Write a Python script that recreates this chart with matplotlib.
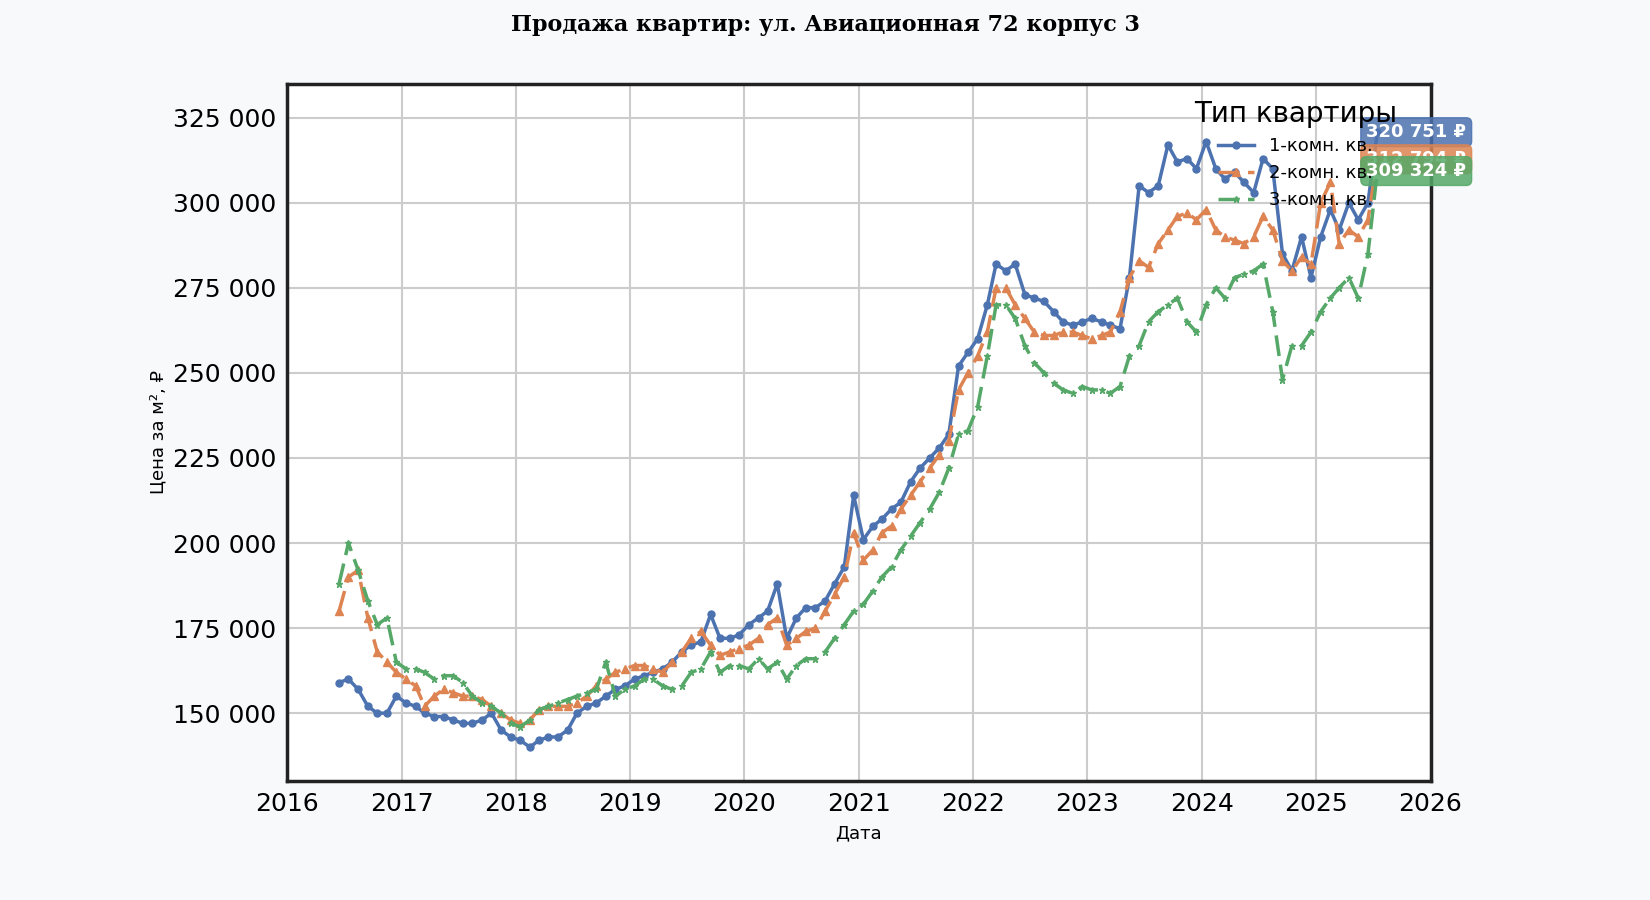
import matplotlib
matplotlib.use("Agg")
import matplotlib.pyplot as plt
import pandas as pd

dates = pd.date_range("2016-06-01", "2025-07-01", freq="MS") + pd.Timedelta(days=14)

one_room = [159000,160000,157000,152000,150000,150000,155000,
 153000,152000,150000,149000,149000,148000,147000,147000,148000,150000,145000,143000,
 142000,140000,142000,143000,143000,145000,150000,152000,153000,155000,157000,158000,
 160000,161000,162000,163000,165000,168000,170000,171000,179000,172000,172000,173000,
 176000,178000,180000,188000,172000,178000,181000,181000,183000,188000,193000,214000,
 201000,205000,207000,210000,212000,218000,222000,225000,228000,232000,252000,256000,
 260000,270000,282000,280000,282000,273000,272000,271000,268000,265000,264000,265000,
 266000,265000,264000,263000,278000,305000,303000,305000,317000,312000,313000,310000,
 318000,310000,307000,309000,306000,303000,313000,310000,285000,280000,290000,278000,
 290000,298000,292000,300000,295000,300000,320751]
two_room = [180000,190000,192000,178000,168000,165000,162000,
 160000,158000,152000,155000,157000,156000,155000,155000,154000,152000,150000,148000,
 147000,148000,151000,152000,152000,152000,153000,155000,158000,160000,162000,163000,
 164000,164000,163000,162000,165000,168000,172000,174000,170000,167000,168000,169000,
 170000,172000,176000,178000,170000,172000,174000,175000,180000,185000,190000,203000,
 195000,198000,203000,205000,210000,214000,218000,222000,226000,230000,245000,250000,
 255000,262000,275000,275000,270000,266000,262000,261000,261000,262000,262000,261000,
 260000,261000,262000,268000,278000,283000,281000,288000,292000,296000,297000,295000,
 298000,292000,290000,289000,288000,290000,296000,292000,283000,280000,284000,282000,
 300000,306000,288000,292000,290000,295000,312794]
three_room = [188000,200000,192000,183000,176000,178000,165000,
 163000,163000,162000,160000,161000,161000,159000,155000,153000,152000,150000,147000,
 146000,148000,151000,152000,153000,154000,155000,156000,157000,165000,155000,157000,
 158000,160000,160000,158000,157000,158000,162000,163000,168000,162000,164000,164000,
 163000,166000,163000,165000,160000,164000,166000,166000,168000,172000,176000,180000,
 182000,186000,190000,193000,198000,202000,206000,210000,215000,222000,232000,233000,
 240000,255000,270000,270000,266000,258000,253000,250000,247000,245000,244000,246000,
 245000,245000,244000,246000,255000,258000,265000,268000,270000,272000,265000,262000,
 270000,275000,272000,278000,279000,280000,282000,268000,248000,258000,258000,262000,
 268000,272000,275000,278000,272000,285000,309324]
labels = ["1-комн. кв.", "2-комн. кв.", "3-комн. кв."]
colors = ["#4c72b0", "#dd8452", "#55a868"]

fig = plt.figure(figsize=(16.5, 9), dpi=100, facecolor="#f8f9fb")
ax = fig.add_axes([0.174, 0.132, 0.693, 0.775])
ax.set_facecolor("white")
styles = [dict(ls="-", marker="o", ms=5), dict(ls=(0, (6, 2.5)), marker="^", ms=6),
          dict(ls=(0, (6, 2.5)), marker="*", ms=5)]
series = [one_room, two_room, three_room]
for s, lab, c, st in zip(series, labels, colors, styles):
    ax.plot(dates, s, color=c, lw=2.5, label=lab, **st)
    ax.annotate(f"{s[-1]:,} ₽".replace(",", " "), (dates[-1], s[-1]), xytext=(-8, 0),
                textcoords="offset points", ha="left", va="center", color="white",
                fontsize=13, fontweight="bold",
                bbox=dict(boxstyle="round,pad=0.3", fc=c, ec=c, alpha=0.85))
ax.set_xlim(pd.Timestamp("2016-01-01"), pd.Timestamp("2026-01-01"))
ax.set_ylim(130000, 335000)
ax.set_yticks(range(150000, 325001, 25000))
ax.yaxis.set_major_formatter(matplotlib.ticker.FuncFormatter(lambda v, p: f"{int(v):,}".replace(",", " ")))
ax.xaxis.set_major_locator(matplotlib.dates.YearLocator())
ax.xaxis.set_major_formatter(matplotlib.dates.DateFormatter("%Y"))
ax.tick_params(labelsize=18, length=0, pad=8)
ax.grid(True, color="#cccccc", lw=1.5)
for sp in ax.spines.values():
    sp.set_linewidth(2.5); sp.set_color("#222222")
ax.set_ylabel("Цена за м², ₽", fontsize=13)
ax.set_xlabel("Дата", fontsize=13, labelpad=6)
leg = ax.legend(title="Тип квартиры", loc="upper right", frameon=False, fontsize=13,
                title_fontsize=20, bbox_to_anchor=(0.985, 1.0))
fig.suptitle("Продажа квартир: ул. Авиационная 72 корпус 3", fontsize=16,
             fontweight="bold", family="DejaVu Serif", y=0.985)
fig.savefig("out.png", facecolor=fig.get_facecolor())
